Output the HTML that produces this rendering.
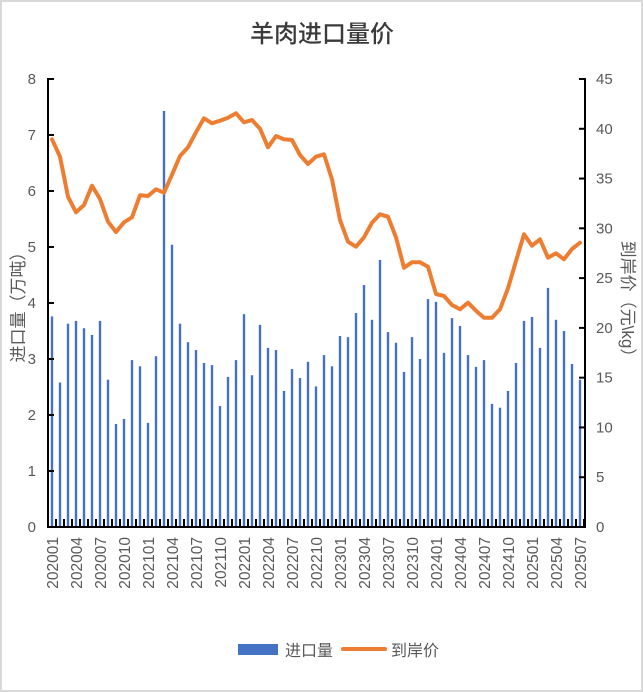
<!DOCTYPE html>
<html><head><meta charset="utf-8"><style>
html,body{margin:0;padding:0;background:#fff}
svg{display:block}
text{font-family:"Liberation Sans","Noto Sans CJK SC",sans-serif;fill:#595959}
</style></head><body>
<svg width="643" height="692" viewBox="0 0 643 692" xmlns="http://www.w3.org/2000/svg">
<rect x="1" y="1" width="641" height="690" fill="#fff" stroke="#d9d9d9" stroke-width="2"/>
<text x="322" y="42" font-size="24" text-anchor="middle" style="fill:#3a3a3a;font-weight:500">羊肉进口量价</text>
<g id="bars" fill="#4472c4"></g>
<g id="ticks" stroke="#000" stroke-width="2"></g>
<polyline id="line" fill="none" stroke="#ed7d31" stroke-width="4" stroke-linejoin="round" stroke-linecap="round"/>
<g stroke="#000" stroke-width="2" fill="none">
<polyline points="54,79 48,79 48,527 585,527 585,79 579,79"/>
</g>
<g id="yt" stroke="#000" stroke-width="2"></g>
<g id="lbl"></g>
<text transform="translate(24,303) rotate(-90)" font-size="17" text-anchor="middle">进口量（万吨）</text>
<text transform="translate(622,303) rotate(90)" font-size="17" text-anchor="middle">到岸价（元\kg）</text>
<rect x="238" y="644" width="40" height="11" fill="#4472c4"/>
<text x="285" y="656" font-size="16">进口量</text>
<line x1="343" y1="649" x2="385" y2="649" stroke="#ed7d31" stroke-width="4" stroke-linecap="round"/>
<text x="391" y="656" font-size="16">到岸价</text>
</svg>
<script>
var v=[3.76,2.58,3.63,3.68,3.55,3.43,3.68,2.63,1.84,1.93,2.98,2.87,1.86,3.05,7.43,5.04,3.63,3.30,3.16,2.93,2.89,2.16,2.68,2.98,3.80,2.71,3.61,3.20,3.16,2.43,2.82,2.66,2.95,2.51,3.07,2.87,3.41,3.39,3.82,4.32,3.70,4.77,3.48,3.29,2.77,3.39,3.00,4.07,4.02,3.11,3.73,3.59,3.07,2.86,2.98,2.20,2.13,2.43,2.93,3.68,3.75,3.20,4.27,3.70,3.50,2.91,2.63];
var ly=[139.3,156.7,196.7,212.3,205,185.7,199,221.7,232,222.3,217.3,195.3,196,189.3,192.7,174.7,156,147.3,132.3,118.3,123.3,120.7,117.7,113.3,122.3,120,128.7,147.3,136,139.3,140,155,164,156.7,154.3,179.3,220,241.7,246.7,237.3,222.7,214.3,216.7,237.3,267.7,262.3,262.3,266.7,294,296,305,309.3,302.7,310.7,317.7,317.7,309.3,288.3,261,234.3,245.7,239.3,257.7,253.3,259.3,249,242.7];
var ns="http://www.w3.org/2000/svg";
function el(t,a,p,tx){var e=document.createElementNS(ns,t);for(var k in a)e.setAttribute(k,a[k]);if(tx)e.textContent=tx;document.getElementById(p).appendChild(e);return e;}
var pts=[];
for(var i=0;i<67;i++){var x=52+8*i;var h=v[i]*56;
el("rect",{x:x-1.2,y:527-h,width:2.4,height:h},"bars");
pts.push(x+","+ly[i]);
el("line",{x1:48+8*i,y1:519,x2:48+8*i,y2:527},"ticks");
if(i%3==0){var y=(2020+Math.floor(i/12))*100+(i%12)+1;
el("text",{transform:"translate("+(x+6)+",537) rotate(-90)","font-size":"15.5","text-anchor":"end"},"lbl",String(y));}}
el("line",{x1:584,y1:519,x2:584,y2:527},"ticks");
document.getElementById("line").setAttribute("points",pts.join(" "));
for(var k=0;k<=8;k++){var y=527-56*k;el("line",{x1:48,y1:y,x2:54,y2:y},"yt");
el("text",{x:36,y:y+5,"font-size":"15","text-anchor":"end"},"lbl",String(k));}
for(var k=0;k<=9;k++){var y=527-448/9*k;el("line",{x1:579,y1:y,x2:585,y2:y},"yt");
el("text",{x:596,y:y+5,"font-size":"15"},"lbl",String(k*5));}
</script>
</body></html>
